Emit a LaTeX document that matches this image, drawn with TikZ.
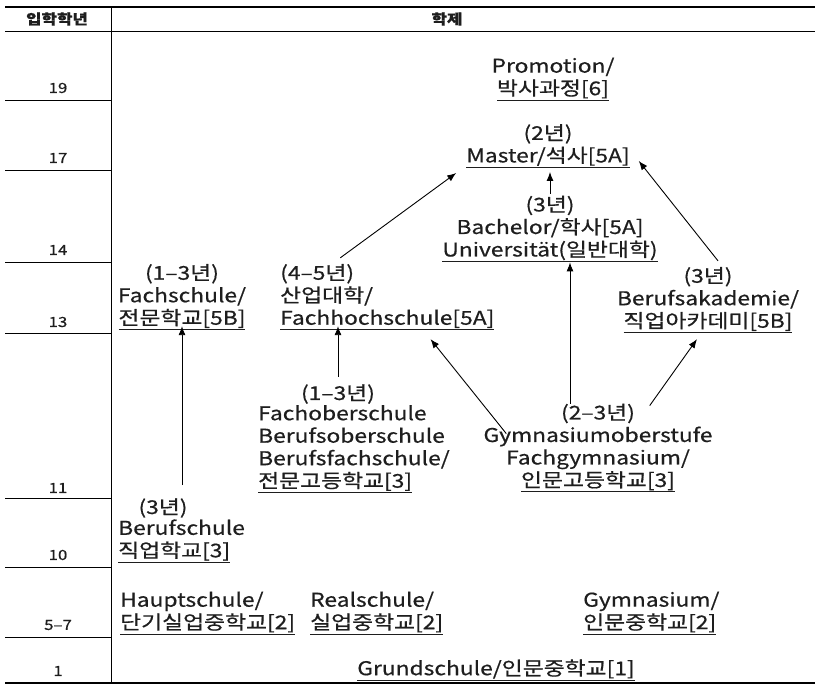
\documentclass[tikz,border=0pt]{standalone}
\usepackage{fontspec}
\setmainfont{Noto Sans CJK KR}[FakeStretch=1.2,FakeBold=0.6]
\usetikzlibrary{arrows.meta}
\usetikzlibrary{calc}
\definecolor{ink}{HTML}{1E1E1E}
\newcommand{\ulin}[1]{\underline{#1}}

\begin{document}
\begin{tikzpicture}[x=1pt,y=-1pt,
    school/.style={text=ink,inner sep=0pt,font=\fontsize{19}{22.5}\selectfont},
    grade/.style={text=ink,inner sep=0pt,font=\fontsize{14}{16}\selectfont}]

  \useasboundingbox (0,0) rectangle (823,687);

  % table frame
  \draw [line width=2pt] (5,7) -- (815,7);
  \draw [line width=0.8pt] (5,31) -- (815,31);
  \draw [line width=2.4pt] (5,683) -- (815,683);
  \draw [line width=0.8pt] (111,7) -- (111,683);
  \foreach \y in {100,170,262,333,498,567,637}
    \draw [line width=0.6pt] (5,\y) -- (111,\y);

  \node [grade,font=\fontsize{14}{16}\selectfont\bfseries] (Hd_year) at (57,19) {입학학년};
  \node [grade,font=\fontsize{14}{16}\selectfont\bfseries] (Hd_sys) at (447,19) {학제};
  \foreach \g/\y in {19/88,17/158,14/250,13/322,11/488,10/555,5–7/625,1/671}
    \node [grade] at (58,\y) {\g};

  % schools
  \node [school,align=center] (Prom) at (553,79) {Promotion/\\\ulin{박사과정[6]}};
  \node [school,align=center] (Mast) at (548,146) {(2년)\\\ulin{Master/석사[5A]}};
  \node [school,align=center] (Bach) at (550,229) {(3년)\\Bachelor/학사[5A]\\\ulin{Universität(일반대학)}};
  \node [school,align=center] (FS) at (182,297) {(1–3년)\\Fachschule/\\\ulin{전문학교[5B]}};
  \node [school,align=left,anchor=west] (FH) at (280,297) {(4–5년)\\산업대학/\\\ulin{Fachhochschule[5A]}};
  \node [school,align=center] (BA) at (708,300) {(3년)\\Berufsakademie/\\\ulin{직업아카데미[5B]}};
  \node [school] (FOS_yr) at (338,394) {(1–3년)};
  \node [school,align=left,anchor=west] (FOS) at (258,449) {Fachoberschule\\Berufsoberschule\\Berufsfachschule/\\\ulin{전문고등학교[3]}};
  \node [school,align=center] (GymO) at (598,448) {(2–3년)\\Gymnasiumoberstufe\\Fachgymnasium/\\\ulin{인문고등학교[3]}};
  \node [school] (BS_yr) at (163,508) {(3년)};
  \node [school,align=left,anchor=west] (BS) at (118,541) {Berufschule\\\ulin{직업학교[3]}};
  \node [school,align=left,anchor=west] (HS) at (120,613) {Hauptschule/\\\ulin{단기실업중학교[2]}};
  \node [school,align=left,anchor=west] (RS) at (310,613) {Realschule/\\\ulin{실업중학교[2]}};
  \node [school,align=left,anchor=west] (Gym) at (583,613) {Gymnasium/\\\ulin{인문중학교[2]}};
  \node [school] (GS) at (496,670) {\ulin{Grundschule/인문중학교[1]}};

  \coordinate (GymO_up) at ($(GymO.north)+(-28,0)$);
  \coordinate (FOS_up) at ($(FOS_yr.center)+(0,-17)$);
  \coordinate (BS_up) at ($(BS_yr.center)+(19,-23)$);

  \path [line width=0.9pt,->,>={Latex[length=9pt,width=7pt]}]
    (Bach.north)                   edge [shorten <=2pt,shorten >=4pt] (Bach.north |- Mast.south)
    ($(FH.north)+(-47,-6)$)        edge ($(Mast.south west)+(-10,5)$)
    (GymO_up)                      edge (GymO_up |- Bach.south)
    ($(GymO.north west)+(23,30)$)  edge ($(FH.south east)+(-64,9)$)
    ($(GymO.north east)+(-63,2)$)  edge ($(BA.south)+(-11,6)$)
    ($(BA.north)+(10,-6)$)         edge ($(Mast.south east)+(9,-7)$)
    (BS_up)                        edge [shorten >=-4pt] (BS_up |- FS.south)
    (FOS_up)                       edge [shorten >=-4pt] (FOS_up |- FH.south);

\end{tikzpicture}
\end{document}
